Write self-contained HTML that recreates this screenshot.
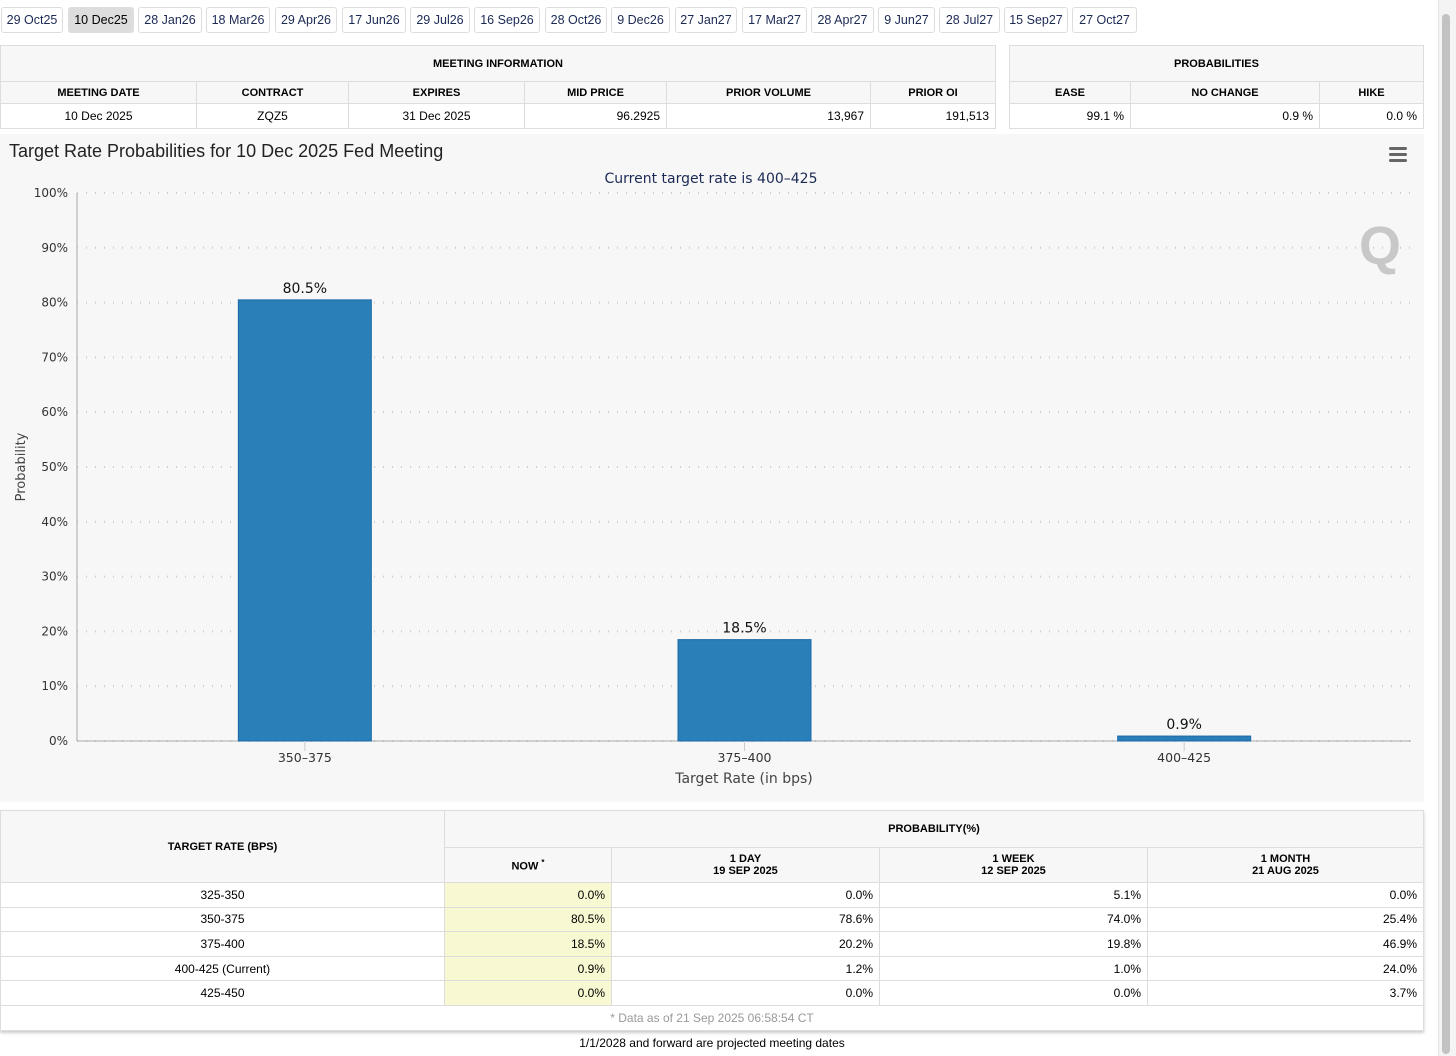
<!DOCTYPE html>
<html><head><meta charset="utf-8">
<style>
*{box-sizing:border-box;margin:0;padding:0}
body{width:1456px;height:1056px;background:#fff;font-family:"Liberation Sans",Arial,sans-serif;position:relative;overflow:hidden;color:#000}
.tab{position:absolute;top:7px;height:26px;border:1px solid #ddd;border-radius:3px;font-size:12.5px;color:#1b2a55;line-height:24px;text-align:center;background:#fff}
.tab.sel{background:#ddd;color:#000}
table{border-collapse:collapse;position:absolute;font-size:12px}
td,th{border:1px solid #ddd;padding:0 6px}
th{font-weight:bold;font-size:11px;background:#f7f7f7;text-align:center}
td{text-align:center}
td.r{text-align:right}
.now{background:#f8f8d2}
</style></head><body>
<div id="tabs"></div>

<table style="left:0;top:45px;width:996px">
<tr style="height:36px"><th colspan="6">MEETING INFORMATION</th></tr>
<tr style="height:22px"><th style="width:196px">MEETING DATE</th><th style="width:152px">CONTRACT</th><th style="width:176px">EXPIRES</th><th style="width:142px">MID PRICE</th><th style="width:204px">PRIOR VOLUME</th><th>PRIOR OI</th></tr>
<tr style="height:25px"><td>10 Dec 2025</td><td>ZQZ5</td><td>31 Dec 2025</td><td class="r">96.2925</td><td class="r">13,967</td><td class="r">191,513</td></tr>
</table>
<table style="left:1009px;top:45px;width:415px">
<tr style="height:36px"><th colspan="3">PROBABILITIES</th></tr>
<tr style="height:22px"><th style="width:121px">EASE</th><th style="width:189px">NO CHANGE</th><th>HIKE</th></tr>
<tr style="height:25px"><td class="r">99.1 %</td><td class="r">0.9 %</td><td class="r">0.0 %</td></tr>
</table>

<svg id="chart" style="position:absolute;left:0;top:134px" width="1424" height="668"></svg>

<table style="left:0;top:810px;width:1424px;box-shadow:0 2px 3px #ccc">
<thead>
<tr style="height:37px"><th rowspan="2" style="width:444px">TARGET RATE (BPS)</th><th colspan="4">PROBABILITY(%)</th></tr>
<tr style="height:35px"><th style="width:167px">NOW <sup style="font-size:8px">*</sup></th><th style="width:268px">1 DAY<br>19 SEP 2025</th><th style="width:268px">1 WEEK<br>12 SEP 2025</th><th>1 MONTH<br>21 AUG 2025</th></tr>
</thead>
<tbody id="rows"></tbody>
<tfoot><tr style="height:25px"><td colspan="5" style="color:#999;font-size:12px">* Data as of 21 Sep 2025 06:58:54 CT</td></tr></tfoot>
</table>
<div style="position:absolute;top:1036px;left:0;width:1424px;text-align:center;font-size:12px">1/1/2028 and forward are projected meeting dates</div>
<div style="position:absolute;left:1438px;top:0;width:18px;height:1056px;background:#f4f4f4;border-left:1px solid #e5e5e5"><div style="margin:14px 3px;width:8px;height:1040px;border-radius:4px;background:#c2c2c2"></div></div>

<script>
const tabLabels=["29 Oct25","10 Dec25","28 Jan26","18 Mar26","29 Apr26","17 Jun26","29 Jul26","16 Sep26","28 Oct26","9 Dec26","27 Jan27","17 Mar27","28 Apr27","9 Jun27","28 Jul27","15 Sep27","27 Oct27"];
const tabX=[1,68,138,206,275,342,410,474,545,611,675,742,811,878,939,1004,1072];
const tabW=[62,66,64,64,62,64,60,66,62,59,62,65,63,57,61,64,65];
const tabsEl=document.getElementById('tabs');
tabLabels.forEach((t,i)=>{const d=document.createElement('div');d.className='tab'+(i==1?' sel':'');


d.style.left=tabX[i]+'px';d.style.width=tabW[i]+'px';d.textContent=t;tabsEl.appendChild(d);});

const rateLabels=["325-350","350-375","375-400","400-425 (Current)","425-450"];
const nowVals=["0.0%","80.5%","18.5%","0.9%","0.0%"];
const dayVals=["0.0%","78.6%","20.2%","1.2%","0.0%"];
const weekVals=["5.1%","74.0%","19.8%","1.0%","0.0%"];
const monthVals=["0.0%","25.4%","46.9%","24.0%","3.7%"];
const tbEl=document.getElementById('rows');
rateLabels.forEach((r,i)=>{const tr=document.createElement('tr');tr.style.height='24.6px';


tr.innerHTML=`<td>${r}</td><td class="r now">${nowVals[i]}</td><td class="r">${dayVals[i]}</td><td class="r">${weekVals[i]}</td><td class="r">${monthVals[i]}</td>`;tbEl.appendChild(tr);});

const categories=["350–375","375–400","400–425"];
const values=[80.5,18.5,0.9];
const yTicks=[0,10,20,30,40,50,60,70,80,90,100];
const svgEl=document.getElementById('chart');const NS='http://www.w3.org/2000/svg';
function el(tag,attrs,txt){const e=document.createElementNS(NS,tag);for(const k in attrs)e.setAttribute(k,attrs[k]);if(txt!=null)e.textContent=txt;svgEl.appendChild(e);return e;}
const plotTop=59,plotBot=607,plotL=85,plotR=1404,axL=77,axR=1411;
const yS=v=>plotBot-(v/100)*(plotBot-plotTop);
const bandW=(plotR-plotL)/categories.length;
const xS=i=>plotL+bandW*(i+0.5);
let e;
e=el('rect',{x:0,y:0,width:1424,height:668,fill:'#f7f7f7'});


e=el('text',{x:9,y:23,'font-size':18,fill:'#222','font-family':'Liberation Sans, sans-serif'},'Target Rate Probabilities for 10 Dec 2025 Fed Meeting');


e=el('text',{x:711,y:49,'font-size':14,fill:'#1b2a55','text-anchor':'middle','font-family':'DejaVu Sans, sans-serif'},'Current target rate is 400–425');


yTicks.forEach(t=>{
 e=el('line',{x1:axL,x2:axR,y1:yS(t),y2:yS(t),stroke:'#ccc','stroke-dasharray':'1,8','stroke-width':2});
 
 
 e=el('text',{x:68,y:yS(t)+4,'font-size':12,fill:'#333','text-anchor':'end','font-family':'DejaVu Sans, sans-serif'},t+'%');
 
 
});
e=el('line',{x1:axL,x2:axL,y1:plotTop,y2:plotBot,stroke:'#aaa'});


e=el('line',{x1:axL,x2:axR,y1:plotBot,y2:plotBot,stroke:'#aaa'});


categories.forEach((c,i)=>{
 const bw=133,h=plotBot-yS(values[i]);
 e=el('rect',{x:xS(i)-bw/2,y:yS(values[i]),width:bw,height:h,fill:'#2a7fb8',stroke:'#1a6aa8'});
 
 
 e=el('text',{x:xS(i),y:yS(values[i])-7,'font-size':14,fill:'#111','text-anchor':'middle','font-family':'DejaVu Sans, sans-serif'},values[i].toFixed(1)+'%');
 
 
 e=el('line',{x1:xS(i),x2:xS(i),y1:plotBot,y2:plotBot+10,stroke:'#ccc'});
 
 
 e=el('text',{x:xS(i),y:plotBot+21,'font-size':12.5,fill:'#333','text-anchor':'middle','font-family':'DejaVu Sans, sans-serif'},c);
 
 
});
e=el('text',{x:744,y:649,'font-size':14,fill:'#444','text-anchor':'middle','font-family':'DejaVu Sans, sans-serif'},'Target Rate (in bps)');


e=el('text',{x:25,y:333,'font-size':13,fill:'#444','text-anchor':'middle',transform:'rotate(-90 25 333)','font-family':'DejaVu Sans, sans-serif'},'Probability');


e=el('text',{x:1380,y:130,'font-size':54,'font-weight':'bold',fill:'#c8c8c8','text-anchor':'middle','font-family':'Liberation Sans, sans-serif'},'Q');


[0,6,12].forEach(d=>{e=el('rect',{x:1389,y:13+d,width:18,height:3,rx:1.5,fill:'#666'});

});
</script>
</body></html>
